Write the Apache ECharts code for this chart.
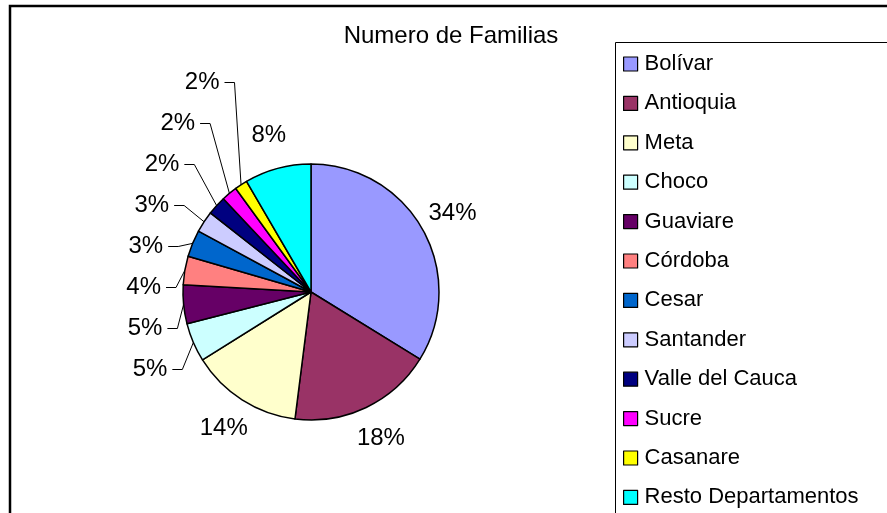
<!DOCTYPE html>
<html>
<head>
<meta charset="utf-8">
<script src="https://cdn.jsdelivr.net/npm/echarts@6/dist/echarts.min.js"></script>
<style>html,body{margin:0;padding:0;background:#fff;}#c{width:887px;height:513px;}</style>
</head>
<body>
<div id="c"></div>
<script>
const titleText = 'Numero de Familias';
const categories = ['Bolívar','Antioquia','Meta','Choco','Guaviare','Córdoba','Cesar','Santander','Valle del Cauca','Sucre','Casanare','Resto Departamentos'];
const values = [33.8, 18.2, 14.1, 4.9, 4.9, 3.6, 3.4, 2.7, 2.4, 2.0, 1.6, 8.4];
const colors = ['#9999FF','#993366','#FFFFCC','#CCFFFF','#660066','#FF8080','#0066CC','#CCCCFF','#000080','#FF00FF','#FFFF00','#00FFFF'];

const FONT = 'Liberation Sans, Arial, sans-serif';
const SMALL = 6;
const pctLabel = p => Math.round(p.percent) + '%';

// visible pie: labels with leader lines for the small slices
const mainData = categories.map((name, i) => ({
  name: name,
  value: values[i],
  itemStyle: { color: colors[i] },
  label: { show: values[i] < SMALL },
  labelLine: { show: values[i] < SMALL }
}));
// transparent ring: centred labels for the large slices
const ringData = categories.map((name, i) => ({
  name: name,
  value: values[i],
  label: { show: values[i] >= SMALL }
}));

const chart = echarts.init(document.getElementById('c'), null, { renderer: 'canvas' });
chart.setOption({
  animation: false,
  backgroundColor: '#fff',
  title: {
    text: titleText,
    left: 446, top: 19, textAlign: 'center',
    textStyle: { fontFamily: FONT, fontSize: 24, fontWeight: 'normal', color: '#000' }
  },
  graphic: [
    { type: 'rect', shape: { x: 10, y: 6, width: 1000, height: 600 }, style: { fill: 'none', stroke: '#000', lineWidth: 2.5 }, silent: true, z: 10 },
    { type: 'rect', shape: { x: 615.5, y: 42.5, width: 400, height: 600 }, style: { fill: 'none', stroke: '#000', lineWidth: 1 }, silent: true, z: 10 }
  ],
  legend: {
    orient: 'vertical',
    left: 618, top: 48, height: 800,
    itemWidth: 14, itemHeight: 14,
    itemGap: 17.4,
    icon: 'rect',
    itemStyle: { borderColor: '#000', borderWidth: 1.2 },
    textStyle: { fontFamily: FONT, fontSize: 22, lineHeight: 20, color: '#000', padding: [0,0,0,2] },
    data: categories
  },
  series: [{
    type: 'pie',
    left: 0, top: 0, right: 0, bottom: 123,
    center: [311, 292],
    radius: 128,
    startAngle: 90,
    clockwise: true,
    avoidLabelOverlap: true,
    itemStyle: { borderColor: '#000', borderWidth: 1.5 },
    label: {
      position: 'outside',
      fontFamily: FONT, fontSize: 24, lineHeight: 39, color: '#000',
      formatter: pctLabel
    },
    labelLine: { length: 12, length2: 10, lineStyle: { color: '#000', width: 1 }, smooth: false },
    emphasis: { disabled: true },
    data: mainData
  }, {
    type: 'pie',
    left: 0, top: 0, right: 0, bottom: 0,
    center: [311, 292],
    radius: [128, 190],
    startAngle: 90,
    clockwise: true,
    silent: true,
    itemStyle: { color: 'rgba(0,0,0,0)', borderWidth: 0 },
    label: {
      position: 'inside',
      fontFamily: FONT, fontSize: 24, color: '#000',
      formatter: pctLabel
    },
    labelLine: { show: false },
    emphasis: { disabled: true },
    data: ringData
  }]
});
</script>
</body>
</html>
